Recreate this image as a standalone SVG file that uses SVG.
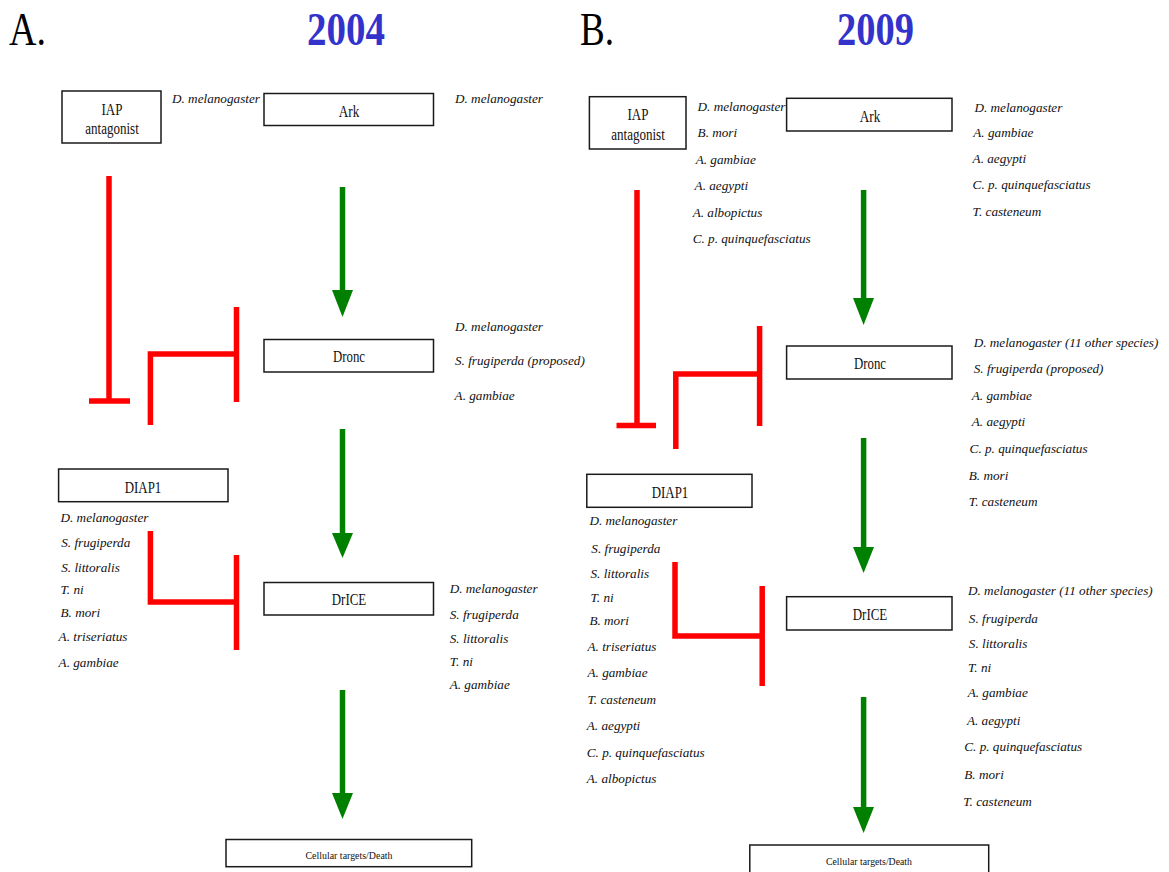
<svg xmlns="http://www.w3.org/2000/svg" width="1169" height="872" viewBox="0 0 1169 872">
<style>
.box{fill:#fff;stroke:#1a1a1a;stroke-width:1.5}
.lbl{font-family:"Liberation Serif",serif;font-size:16px;fill:#111;text-anchor:middle}
.sm{font-family:"Liberation Serif",serif;font-size:11px;fill:#111;text-anchor:middle}
.sp{font-family:"Liberation Serif",serif;font-size:13.2px;font-style:italic;fill:#111}
.big{font-family:"Liberation Serif",serif;font-size:46px;fill:#000}
.yr{font-family:"Liberation Serif",serif;font-size:46px;font-weight:bold;fill:#3333cc}
.act{stroke:#008000;stroke-width:5.5;fill:none}
.inh{stroke:#ff0000;stroke-width:5.5;fill:none}
.head{fill:#008000}
</style>
<rect width="1169" height="872" fill="#fff"/>
<text class="big" x="9" y="45" textLength="37" lengthAdjust="spacingAndGlyphs">A.</text>
<text class="yr" x="307" y="45" textLength="78" lengthAdjust="spacingAndGlyphs">2004</text>
<text class="big" x="580" y="45" textLength="34" lengthAdjust="spacingAndGlyphs">B.</text>
<text class="yr" x="837" y="45" textLength="77" lengthAdjust="spacingAndGlyphs">2009</text>

<g id="connectors">
<!-- Panel A -->
<path class="inh" d="M109 176 V401 M89 401 H130"/>
<path class="inh" d="M236.5 307 V402 M236.5 354 H150.4 V425"/>
<path class="inh" d="M150.4 531 V602 H236.5 M236.5 555 V650"/>
<path class="act" d="M342.5 187 V292"/>
<polygon class="head" points="332,290 353,290 342.5,317"/>
<path class="act" d="M342.5 429 V535"/>
<polygon class="head" points="332,533 353,533 342.5,558"/>
<path class="act" d="M342.5 690 V795"/>
<polygon class="head" points="332,793 353,793 342.5,819"/>
<!-- Panel B -->
<path class="inh" d="M637 190 V425 M616.5 425.5 H656"/>
<path class="inh" d="M759.6 326 V426 M759.6 374 H675.8 V449"/>
<path class="inh" d="M675 562 V636 H762.2 M762.2 586 V686"/>
<path class="act" d="M863.6 190 V300"/>
<polygon class="head" points="853,298 874,298 863.6,325"/>
<path class="act" d="M863.6 438 V549"/>
<polygon class="head" points="853,547 874,547 863.6,573"/>
<path class="act" d="M863.6 697 V809"/>
<polygon class="head" points="853,807 874,807 863.6,833"/>
</g>

<!-- Panel A nodes -->
<g id="A-iap">
<rect class="box" x="62" y="91" width="99" height="52"/>
<text class="lbl" x="112" y="115" textLength="21" lengthAdjust="spacingAndGlyphs">IAP</text>
<text class="lbl" x="112" y="134" textLength="53.5" lengthAdjust="spacingAndGlyphs">antagonist</text>
</g>
<g id="A-ark">
<rect class="box" x="264" y="93.5" width="169.5" height="32"/>
<text class="lbl" x="349" y="117" textLength="20.5" lengthAdjust="spacingAndGlyphs">Ark</text>
</g>
<g id="A-dronc">
<rect class="box" x="264" y="339.5" width="169.5" height="32.5"/>
<text class="lbl" x="349" y="362" textLength="32" lengthAdjust="spacingAndGlyphs">Dronc</text>
</g>
<g id="A-diap1">
<rect class="box" x="58.6" y="469" width="169.4" height="32.7"/>
<text class="lbl" x="143" y="493" textLength="36.5" lengthAdjust="spacingAndGlyphs">DIAP1</text>
</g>
<g id="A-drice">
<rect class="box" x="264" y="582.5" width="169.5" height="32.5"/>
<text class="lbl" x="349" y="605" textLength="34.5" lengthAdjust="spacingAndGlyphs">DrICE</text>
</g>
<g id="A-death">
<rect class="box" x="226" y="839.5" width="245.7" height="27.2"/>
<text class="sm" x="349" y="859" textLength="87" lengthAdjust="spacingAndGlyphs">Cellular targets/Death</text>
</g>
<g id="A-species">
<text class="sp" x="172" y="103">D. melanogaster</text>
<text class="sp" x="455" y="103">D. melanogaster</text>
<text class="sp" x="455" y="331">D. melanogaster</text>
<text class="sp" x="455" y="365">S. frugiperda (proposed)</text>
<text class="sp" x="454.6" y="400">A. gambiae</text>
<text class="sp" x="60.5" y="522">D. melanogaster</text>
<text class="sp" x="61.2" y="547">S. frugiperda</text>
<text class="sp" x="61.2" y="572">S. littoralis</text>
<text class="sp" x="60.5" y="594">T. ni</text>
<text class="sp" x="60.5" y="617">B. mori</text>
<text class="sp" x="58.6" y="641">A. triseriatus</text>
<text class="sp" x="58.6" y="667">A. gambiae</text>
<text class="sp" x="449.7" y="593">D. melanogaster</text>
<text class="sp" x="449.7" y="619">S. frugiperda</text>
<text class="sp" x="449.7" y="643">S. littoralis</text>
<text class="sp" x="449.7" y="666">T. ni</text>
<text class="sp" x="449.7" y="689">A. gambiae</text>
</g>

<!-- Panel B nodes -->
<g id="B-iap">
<rect class="box" x="589.4" y="96.7" width="96.6" height="52.3"/>
<text class="lbl" x="638" y="120" textLength="21" lengthAdjust="spacingAndGlyphs">IAP</text>
<text class="lbl" x="638" y="140" textLength="53.5" lengthAdjust="spacingAndGlyphs">antagonist</text>
</g>
<g id="B-ark">
<rect class="box" x="786.6" y="98.3" width="165.4" height="32.7"/>
<text class="lbl" x="870" y="122" textLength="20.5" lengthAdjust="spacingAndGlyphs">Ark</text>
</g>
<g id="B-dronc">
<rect class="box" x="786.6" y="346" width="165.4" height="33"/>
<text class="lbl" x="870" y="369" textLength="32" lengthAdjust="spacingAndGlyphs">Dronc</text>
</g>
<g id="B-diap1">
<rect class="box" x="586.8" y="474.3" width="165.2" height="33"/>
<text class="lbl" x="670" y="498" textLength="36.5" lengthAdjust="spacingAndGlyphs">DIAP1</text>
</g>
<g id="B-drice">
<rect class="box" x="786.6" y="596.7" width="165.4" height="33.3"/>
<text class="lbl" x="870" y="620" textLength="34.5" lengthAdjust="spacingAndGlyphs">DrICE</text>
</g>
<g id="B-death">
<rect class="box" x="749.8" y="845" width="238.9" height="30"/>
<text class="sm" x="869" y="865" textLength="86" lengthAdjust="spacingAndGlyphs">Cellular targets/Death</text>
</g>
<g id="B-species">
<text class="sp" x="697.6" y="111">D. melanogaster</text>
<text class="sp" x="697.6" y="137">B. mori</text>
<text class="sp" x="695.7" y="164">A. gambiae</text>
<text class="sp" x="694.6" y="190">A. aegypti</text>
<text class="sp" x="692.7" y="217">A. albopictus</text>
<text class="sp" x="692.7" y="243">C. p. quinquefasciatus</text>
<text class="sp" x="974.4" y="112">D. melanogaster</text>
<text class="sp" x="973.3" y="137">A. gambiae</text>
<text class="sp" x="972.6" y="163">A. aegypti</text>
<text class="sp" x="972.6" y="189">C. p. quinquefasciatus</text>
<text class="sp" x="972.6" y="216">T. casteneum</text>
<text class="sp" x="973.7" y="347">D. melanogaster (11 other species)</text>
<text class="sp" x="973.7" y="373">S. frugiperda (proposed)</text>
<text class="sp" x="971.8" y="400">A. gambiae</text>
<text class="sp" x="971.8" y="426">A. aegypti</text>
<text class="sp" x="969.6" y="453">C. p. quinquefasciatus</text>
<text class="sp" x="968.8" y="480">B. mori</text>
<text class="sp" x="968.8" y="506">T. casteneum</text>
<text class="sp" x="589.4" y="525">D. melanogaster</text>
<text class="sp" x="591.3" y="553">S. frugiperda</text>
<text class="sp" x="590.5" y="578">S. littoralis</text>
<text class="sp" x="590.5" y="602">T. ni</text>
<text class="sp" x="589.4" y="625">B. mori</text>
<text class="sp" x="587.5" y="651">A. triseriatus</text>
<text class="sp" x="587.5" y="677">A. gambiae</text>
<text class="sp" x="587.5" y="704">T. casteneum</text>
<text class="sp" x="586.8" y="730">A. aegypti</text>
<text class="sp" x="586.8" y="757">C. p. quinquefasciatus</text>
<text class="sp" x="586.8" y="783">A. albopictus</text>
<text class="sp" x="968" y="595">D. melanogaster (11 other species)</text>
<text class="sp" x="968.8" y="623">S. frugiperda</text>
<text class="sp" x="968.8" y="648">S. littoralis</text>
<text class="sp" x="968" y="672">T. ni</text>
<text class="sp" x="967.7" y="697">A. gambiae</text>
<text class="sp" x="966.9" y="725">A. aegypti</text>
<text class="sp" x="964.3" y="751">C. p. quinquefasciatus</text>
<text class="sp" x="964.3" y="779">B. mori</text>
<text class="sp" x="963.2" y="806">T. casteneum</text>
</g>
</svg>
